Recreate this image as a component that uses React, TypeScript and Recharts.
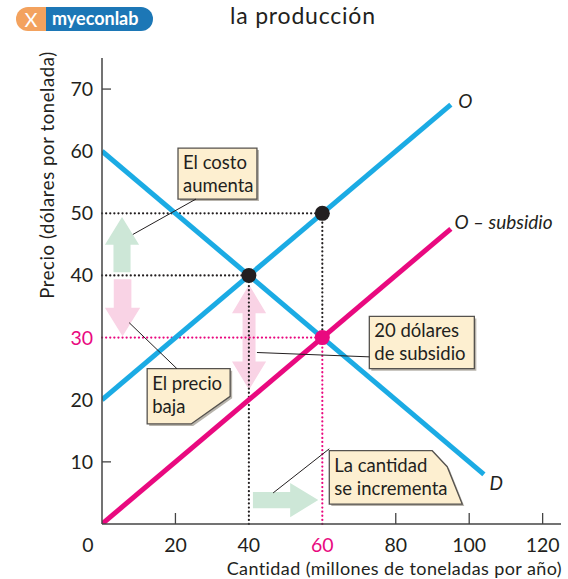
import React from "react";
import {
  ComposedChart,
  Line,
  XAxis,
  YAxis,
  ReferenceLine,
  ReferenceDot,
  ReferenceArea,
} from "recharts";

const BLUE = "#1BABE4";
const PINK = "#E9097F";
const INK = "#231F20";
const FONT = "Lato, 'Open Sans', sans-serif";

// axis ticks
const quantityTicks = [0, 20, 40, 60, 80, 100, 120];
const priceTicks = [10, 20, 30, 40, 50, 60, 70];

// curves (millones de toneladas, dólares por tonelada)
const supplyQ = [0, 95];
const supplyP = [20, 67.5];
const subsidyQ = [0, 95];
const subsidyP = [0, 47.5];
const demandQ = [0, 104];
const demandP = [60, 8];

// key points: [q, p]
const startEq = [40, 40];
const sellerPoint = [60, 50];
const newEq = [60, 30];

const toRows = (qs: number[], ps: number[]) => qs.map((q, i) => ({ q, p: ps[i] }));
const supplyData = toRows(supplyQ, supplyP);
const subsidyData = toRows(subsidyQ, subsidyP);
const demandData = toRows(demandQ, demandP);

type Box = { x: number; y: number; width: number; height: number };

function FatArrow({ x, y, width: w, height: h, dir }: Box & { dir: string }) {
  let pts: number[][] = [];
  if (dir === "up") {
    const s = w * 0.25, hh = h * 0.5;
    pts = [[x + w / 2, y], [x + w, y + hh], [x + w - s, y + hh], [x + w - s, y + h], [x + s, y + h], [x + s, y + hh], [x, y + hh]];
  } else if (dir === "down") {
    const s = w * 0.25, hh = h * 0.5;
    pts = [[x + s, y], [x + w - s, y], [x + w - s, y + hh], [x + w, y + hh], [x + w / 2, y + h], [x, y + hh], [x + s, y + hh]];
  } else if (dir === "both") {
    const s = w * 0.31, hh = h * 0.27;
    pts = [[x + w / 2, y], [x + w, y + hh], [x + w - s, y + hh], [x + w - s, y + h - hh], [x + w, y + h - hh], [x + w / 2, y + h], [x, y + h - hh], [x + s, y + h - hh], [x + s, y + hh], [x, y + hh]];
  } else {
    const s = h * 0.26, hl = w * 0.43;
    pts = [[x, y + s], [x + w - hl, y + s], [x + w - hl, y], [x + w, y + h / 2], [x + w - hl, y + h], [x + w - hl, y + h - s], [x, y + h - s]];
  }
  const fill = dir === "up" || dir === "right" ? "#CDE7D7" : "#F9D3E5";
  return <polygon points={pts.map((p) => p.join(",")).join(" ")} fill={fill} />;
}

function Callout({ x, y, width: w, height: h, lines, cut }: Box & { lines: string[]; cut?: string }) {
  let pts: number[][] = [[x, y], [x + w, y], [x + w, y + h], [x, y + h]];
  if (cut === "br") pts = [[x, y], [x + w, y], [x + w, y + h * 0.5], [x + w * 0.53, y + h], [x, y + h]];
  if (cut === "tr") pts = [[x, y], [x + w - 30, y], [x + w - 15, y + 16], [x + w, y + h], [x, y + h]];
  const d = pts.map((p) => p.join(",")).join(" ");
  const shadow = pts.map((p) => `${p[0] + 2},${p[1] + 2}`).join(" ");
  return (
    <g>
      <polygon points={shadow} fill="#B8B4AC" />
      <polygon points={d} fill="#FDEFD0" stroke="#55524E" strokeWidth={1.3} />
      {lines.map((t, i) => (
        <text key={i} x={x + 5} y={y + 21 + i * 23} fontFamily={FONT} fontSize={18.5} fill={INK}>
          {t}
        </text>
      ))}
    </g>
  );
}

function YTick(props: any) {
  const { x, y, payload } = props;
  const v = payload.value;
  const col = v === 30 ? PINK : INK;
  return (
    <g>
      {(v === 10 || v === 70) && <line x1={x} x2={x + 9} y1={y} y2={y} stroke="#444" strokeWidth={1.3} />}
      <text x={x - 9} y={y + 7} textAnchor="end" fontFamily={FONT} fontSize={19.5} fill={col}>
        {v}
      </text>
    </g>
  );
}

function XTick(props: any) {
  const { x, y, payload } = props;
  const v = payload.value;
  const col = v === 60 ? PINK : INK;
  return (
    <g>
      {v >= 80 || v === 20 ? <line x1={x} x2={x} y1={y} y2={y - 11} stroke="#444" strokeWidth={1.3} /> : null}
      <text x={v === 0 ? x - 14 : x} y={y + 28} textAnchor="middle" fontFamily={FONT} fontSize={19.5} fill={col}>
        {v}
      </text>
    </g>
  );
}

const dotted = { strokeDasharray: "0.1 4", strokeLinecap: "round" as const, strokeWidth: 2.2 };

function LineName({ cx, cy, text, italic }: any) {
  return (
    <text x={cx} y={cy} fontFamily={FONT} fontSize={19} fontStyle={italic ? "italic" : "normal"} fill={INK}>
      {text}
    </text>
  );
}

export default function App() {
  return (
    <div style={{ position: "absolute", left: 0, top: 0, width: 568, height: 579, background: "#fff" }}>
      <div style={{ position: "absolute", left: 16, top: 7, width: 137, height: 24, display: "flex" }}>
        <div
          style={{
            width: 30, height: 24, background: "#F3A25E", borderRadius: "12px 0 0 12px",
            color: "#fff", fontFamily: FONT, fontSize: 20, lineHeight: "24px", textAlign: "center",
          }}
        >
          X
        </div>
        <div
          style={{
            flex: 1, height: 24, background: "#1C77B6", borderRadius: "0 12px 12px 0",
            color: "#fff", fontFamily: FONT, fontSize: 18, fontWeight: 700, lineHeight: "23px", paddingLeft: 6,
          }}
        >
          myeconlab
        </div>
      </div>
      <div style={{ position: "absolute", left: 230, top: 1, fontFamily: FONT, fontSize: 23, lineHeight: "28px", letterSpacing: 0.8, color: INK }}>
        la producción
      </div>
      <ComposedChart width={568} height={579} margin={{ top: 58, right: 7, bottom: 0, left: 0 }} style={{ position: "absolute", left: 0, top: 0 }}>
        <XAxis
          dataKey="q"
          type="number"
          domain={[0, 125]}
          ticks={quantityTicks}
          height={55}
          tickSize={0}
          tickMargin={0}
          tickLine={false}
          tick={<XTick />}
          axisLine={{ stroke: "#444", strokeWidth: 1.5 }}
          interval={0}
          allowDataOverflow
        />
        <YAxis
          dataKey="p"
          type="number"
          domain={[0, 75]}
          ticks={priceTicks}
          width={102}
          tickSize={0}
          tickMargin={0}
          tickLine={false}
          tick={<YTick />}
          axisLine={{ stroke: "#444", strokeWidth: 1.5 }}
          interval={0}
          allowDataOverflow
        />

        <ReferenceArea x1={0.8} x2={10.1} y1={40.5} y2={49.4} shape={(p: any) => <FatArrow {...p} dir="up" />} />
        <ReferenceArea x1={0.8} x2={10.4} y1={30.2} y2={39.4} shape={(p: any) => <FatArrow {...p} dir="down" />} />
        <ReferenceArea x1={35.4} x2={44.7} y1={21.6} y2={38.5} shape={(p: any) => <FatArrow {...p} dir="both" />} />
        <ReferenceArea x1={41.1} x2={58.9} y1={1.1} y2={6.6} shape={(p: any) => <FatArrow {...p} dir="right" />} />

        <ReferenceLine segment={[{ x: 0, y: sellerPoint[1] }, { x: sellerPoint[0], y: sellerPoint[1] }]} stroke={INK} {...dotted} />
        <ReferenceLine segment={[{ x: 0, y: startEq[1] }, { x: startEq[0], y: startEq[1] }]} stroke={INK} {...dotted} />
        <ReferenceLine segment={[{ x: startEq[0], y: 0 }, { x: startEq[0], y: startEq[1] }]} stroke={INK} {...dotted} />
        <ReferenceLine segment={[{ x: newEq[0], y: newEq[1] }, { x: sellerPoint[0], y: sellerPoint[1] }]} stroke={INK} {...dotted} />
        <ReferenceLine segment={[{ x: 0, y: newEq[1] }, { x: newEq[0], y: newEq[1] }]} stroke={PINK} {...dotted} />
        <ReferenceLine segment={[{ x: newEq[0], y: 0 }, { x: newEq[0], y: newEq[1] }]} stroke={PINK} {...dotted} />

        <Line data={demandData} dataKey="p" type="linear" stroke={BLUE} strokeWidth={5} dot={false} isAnimationActive={false} />
        <Line data={supplyData} dataKey="p" type="linear" stroke={BLUE} strokeWidth={5} dot={false} isAnimationActive={false} />
        <Line data={subsidyData} dataKey="p" type="linear" stroke={PINK} strokeWidth={5} dot={false} isAnimationActive={false} />

        <ReferenceDot x={startEq[0]} y={startEq[1]} r={7.5} fill={INK} stroke="none" />
        <ReferenceDot x={sellerPoint[0]} y={sellerPoint[1]} r={7.5} fill={INK} stroke="none" />
        <ReferenceDot x={newEq[0]} y={newEq[1]} r={7.5} fill={PINK} stroke="none" />

        <ReferenceLine segment={[{ x: 8.4, y: 46.6 }, { x: 25.6, y: 52.3 }]} stroke={INK} strokeWidth={1} />
        <ReferenceLine segment={[{ x: 7.4, y: 32.4 }, { x: 20.4, y: 25 }]} stroke={INK} strokeWidth={1} />
        <ReferenceLine segment={[{ x: 42.2, y: 27.6 }, { x: 72.8, y: 26.9 }]} stroke={INK} strokeWidth={1} />
        <ReferenceLine segment={[{ x: 46.6, y: 5 }, { x: 61.9, y: 12.1 }]} stroke={INK} strokeWidth={1} />

        <ReferenceArea x1={20.7} x2={42.2} y1={52.3} y2={60.5} shape={(p: any) => <Callout {...p} lines={["El costo", "aumenta"]} />} />
        <ReferenceArea x1={12.3} x2={34.9} y1={16.1} y2={25} shape={(p: any) => <Callout {...p} cut="br" lines={["El precio", "baja"]} />} />
        <ReferenceArea x1={72.8} x2={101.4} y1={25} y2={33.4} shape={(p: any) => <Callout {...p} lines={["20 dólares", "de subsidio"]} />} />
        <ReferenceArea x1={61.9} x2={98.1} y1={3.2} y2={11.8} shape={(p: any) => <Callout {...p} cut="tr" lines={["La cantidad", "se incrementa"]} />} />

        <ReferenceDot x={97} y={67} r={0} shape={(p: any) => <LineName {...p} text="O" italic />} />
        <ReferenceDot x={96} y={47.4} r={0} shape={(p: any) => <LineName {...p} text="O – subsidio" italic />} />
        <ReferenceDot x={105.5} y={5.5} r={0} shape={(p: any) => <LineName {...p} text="D" italic />} />

        <text x={562} y={575} textAnchor="end" fontFamily={FONT} fontSize={18} letterSpacing={0.4} fill={INK}>
          Cantidad (millones de toneladas por año)
        </text>
        <text transform="translate(54,175) rotate(-90)" textAnchor="middle" fontFamily={FONT} fontSize={18.5} letterSpacing={0.6} fill={INK}>
          Precio (dólares por tonelada)
        </text>
      </ComposedChart>
    </div>
  );
}
